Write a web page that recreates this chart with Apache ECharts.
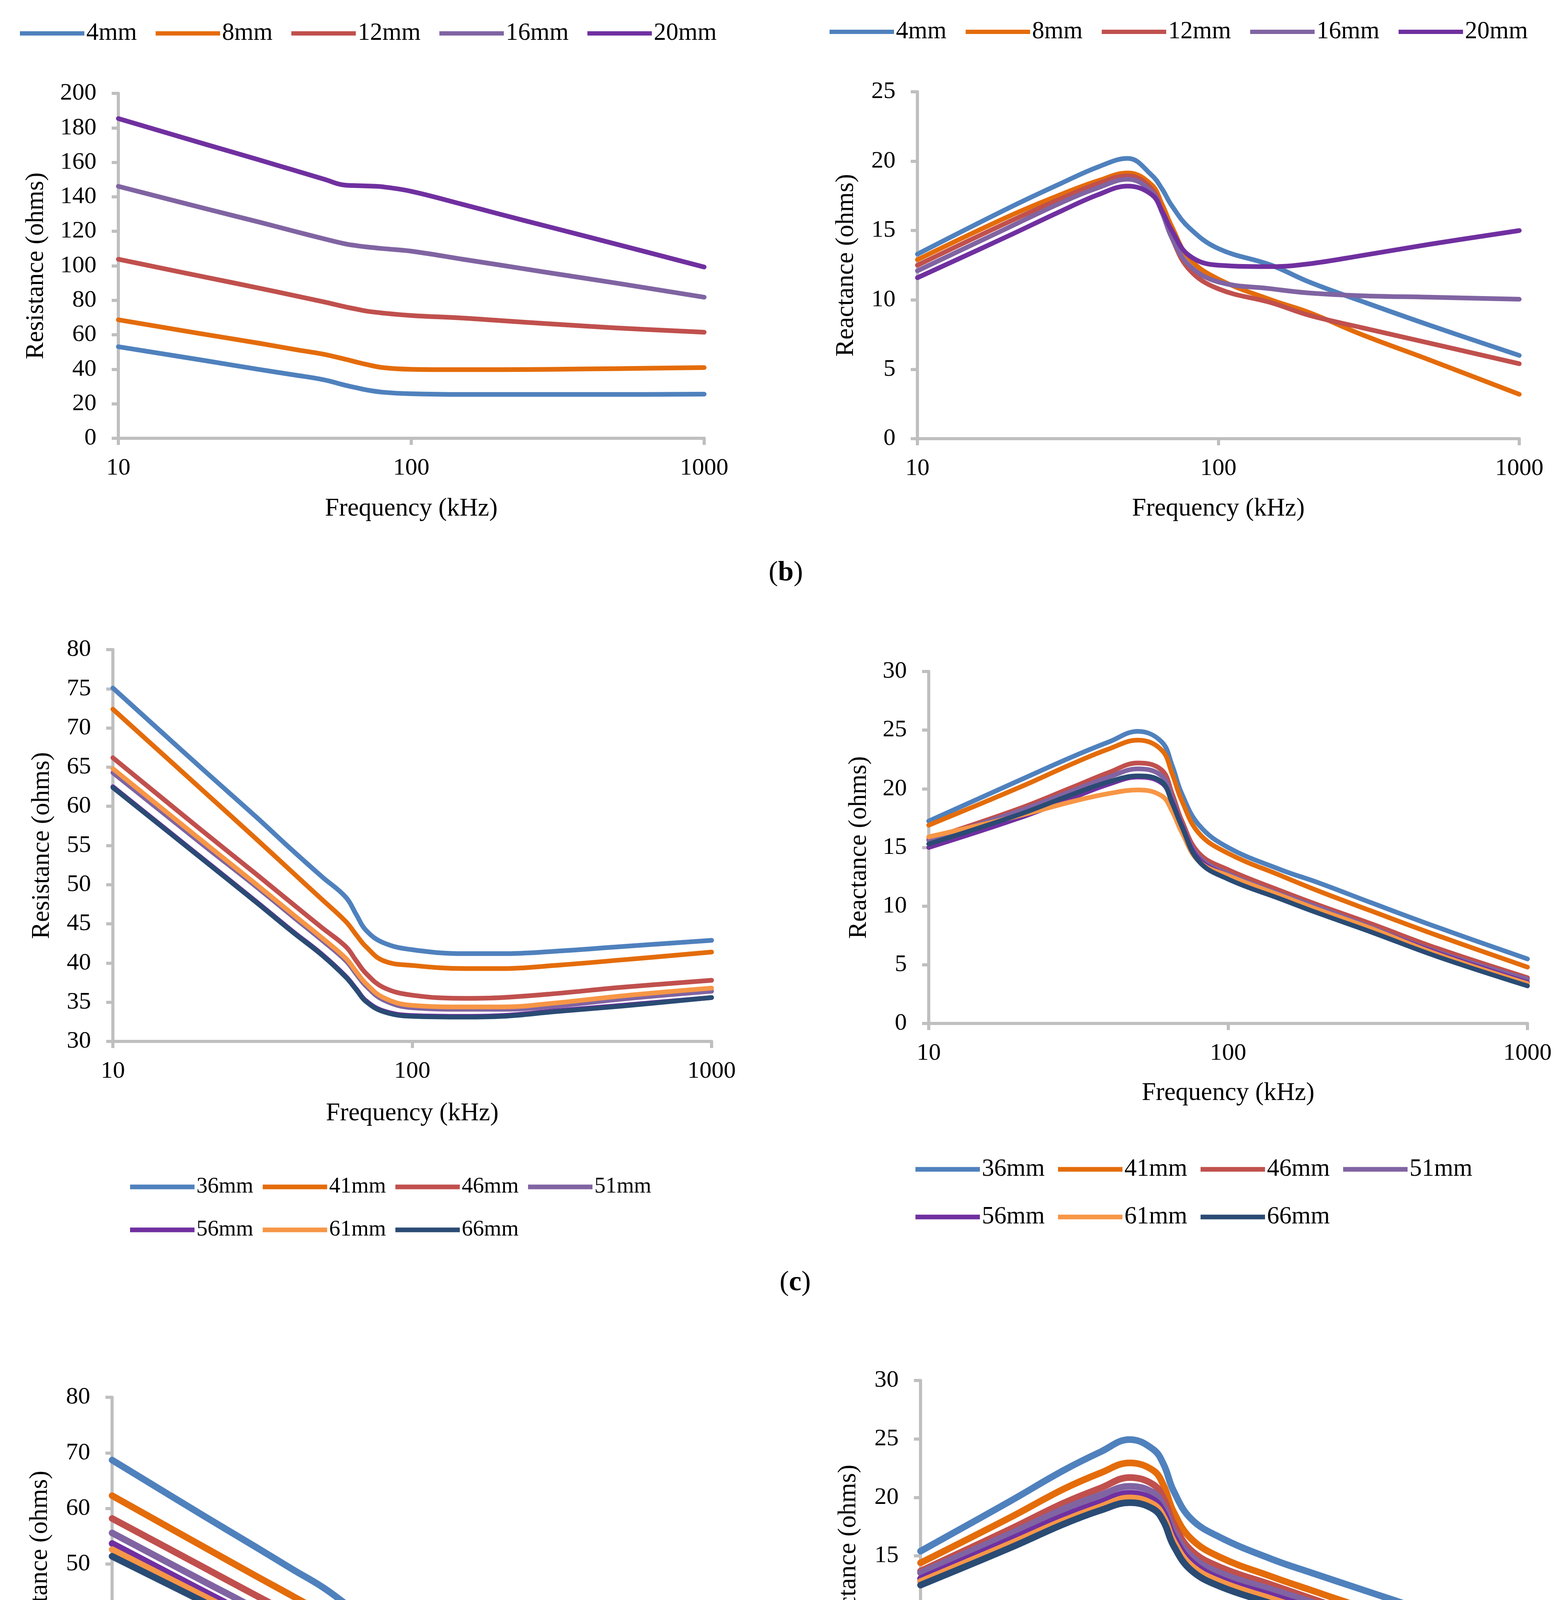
<!DOCTYPE html>
<html>
<head>
<meta charset="utf-8">
<script src="https://cdn.jsdelivr.net/npm/echarts/dist/echarts.min.js"></script>
<style>html,body{margin:0;padding:0;background:#fff;}#c{width:4002px;height:5206px;}</style>
</head>
<body>
<div id="c"></div>
<script>
// ---------- data ----------
const FREQ = [10, 20, 30, 40, 50, 60, 65, 70, 80, 100, 150, 200, 300, 500, 1000];

// (b) left: resistance
const B_NAMES = ['4mm', '8mm', '12mm', '16mm', '20mm'];
const B_R4  = [53.1, 44.9, 40.0, 36.7, 34.0, 30.6, 29.3, 28.1, 26.7, 25.8, 25.4, 25.4, 25.4, 25.4, 25.6];
const B_R8  = [68.7, 60.1, 55.2, 51.5, 48.8, 45.7, 44.2, 42.9, 41.0, 40.0, 39.8, 39.8, 40.0, 40.4, 41.0];
const B_R12 = [103.8, 93.3, 87.2, 82.7, 79.2, 76.1, 74.9, 73.8, 72.6, 71.2, 69.7, 68.3, 66.3, 64.0, 61.5];
const B_R16 = [146.1, 133.0, 125.5, 120.0, 115.8, 112.6, 111.7, 111.0, 110.0, 108.5, 103.8, 100.5, 95.8, 90.0, 81.8];
const B_R20 = [185.4, 170.3, 161.6, 155.3, 150.4, 146.7, 146.5, 146.3, 145.8, 143.2, 135.6, 130.0, 122.3, 112.6, 99.3];
// (b) right: reactance
const B_X4  = [13.3, 16.6, 18.4, 19.6, 20.2, 19.0, 18.0, 16.8, 15.2, 13.7, 12.5, 11.3, 9.9, 8.2, 6.0];
const B_X8  = [12.9, 16.0, 17.6, 18.6, 19.15, 18.3, 16.9, 15.3, 13.0, 11.5, 10.0, 9.1, 7.5, 5.7, 3.2];
const B_X12 = [12.5, 15.6, 17.3, 18.4, 18.95, 18.0, 16.4, 14.5, 12.2, 10.8, 9.8, 8.9, 8.0, 6.9, 5.4];
const B_X16 = [12.1, 15.2, 17.0, 18.1, 18.7, 17.8, 16.3, 14.5, 12.5, 11.3, 10.8, 10.5, 10.3, 10.2, 10.05];
const B_X20 = [11.6, 14.6, 16.4, 17.6, 18.2, 17.6, 16.4, 15.0, 13.2, 12.5, 12.4, 12.6, 13.2, 14.0, 15.0];

// (c) / (d)
const CD_NAMES = ['36mm', '41mm', '46mm', '51mm', '56mm', '61mm', '66mm'];
const C_R36 = [75.1, 64.7, 58.7, 54.3, 51.0, 48.4, 46.2, 44.2, 42.6, 41.7, 41.2, 41.2, 41.5, 42.1, 42.9];
const C_R41 = [72.4, 62.0, 55.9, 51.5, 48.1, 45.3, 43.6, 42.1, 40.3, 39.7, 39.3, 39.3, 39.7, 40.4, 41.4];
const C_R46 = [66.2, 56.8, 51.4, 47.5, 44.5, 42.1, 40.3, 38.7, 36.9, 35.9, 35.5, 35.6, 36.1, 36.9, 37.8];
const C_R51 = [64.3, 55.1, 49.8, 45.9, 42.9, 40.3, 38.6, 37.1, 35.3, 34.3, 34.1, 34.1, 34.5, 35.4, 36.4];
const C_R56 = [62.5, 53.3, 47.9, 44.0, 41.1, 38.3, 36.7, 35.2, 33.9, 33.3, 33.2, 33.3, 33.9, 34.6, 35.6];
const C_R61 = [64.8, 55.5, 50.1, 46.2, 43.2, 40.6, 38.9, 37.4, 35.6, 34.6, 34.4, 34.4, 34.9, 35.8, 36.8];
const C_R66 = [62.4, 53.2, 47.8, 43.9, 41.0, 38.2, 36.6, 35.1, 33.8, 33.2, 33.1, 33.2, 33.8, 34.5, 35.6];

const C_X36 = [17.25, 20.7, 22.7, 24.0, 24.9, 24.0, 22.0, 19.6, 16.9, 15.0, 13.1, 12.0, 10.3, 8.2, 5.5];
const C_X41 = [16.9, 20.1, 22.1, 23.4, 24.15, 23.3, 21.3, 19.0, 16.2, 14.5, 12.6, 11.3, 9.6, 7.5, 4.8];
const C_X46 = [15.7, 18.3, 20.1, 21.4, 22.2, 21.6, 19.6, 17.3, 14.5, 13.1, 11.3, 10.1, 8.5, 6.4, 3.9];
const C_X51 = [15.6, 18.1, 19.8, 21.0, 21.7, 21.1, 19.2, 17.0, 14.2, 12.75, 11.0, 9.9, 8.2, 6.1, 3.75];
const C_X56 = [15.0, 17.5, 19.2, 20.4, 21.0, 20.5, 18.9, 16.9, 14.0, 12.6, 10.8, 9.6, 8.1, 6.0, 3.5];
const C_X61 = [15.9, 17.7, 18.9, 19.6, 19.9, 19.4, 18.1, 16.3, 13.8, 12.6, 10.9, 9.7, 8.1, 5.9, 3.4];
const C_X66 = [15.3, 17.8, 19.5, 20.6, 21.1, 20.6, 18.8, 16.8, 13.8, 12.3, 10.6, 9.4, 7.8, 5.7, 3.2];

const D_R36 = [68.7, 58.8, 53.1, 49.0, 45.9, 42.8, 41.3, 39.6, 37.6, 36.9, 36.2, 36.0, 35.9, 36.0, 36.2];
const D_R41 = [62.3, 53.2, 47.9, 44.2, 41.2, 38.3, 36.8, 35.3, 33.8, 32.7, 32.0, 31.8, 32.0, 32.2, 32.5];
const D_R46 = [58.2, 49.5, 44.4, 40.8, 38.0, 34.8, 33.5, 32.2, 30.6, 29.9, 29.4, 29.4, 29.5, 29.8, 30.1];
const D_R51 = [55.6, 47.0, 42.0, 38.3, 35.5, 32.6, 31.4, 30.3, 28.9, 28.3, 27.8, 27.8, 27.9, 28.2, 28.5];
const D_R56 = [53.7, 45.2, 40.3, 36.8, 34.2, 31.2, 30.0, 28.8, 27.6, 27.1, 26.8, 26.7, 26.9, 27.1, 27.6];
const D_R61 = [52.6, 44.3, 39.5, 36.1, 33.4, 30.5, 29.3, 28.2, 26.8, 26.3, 25.9, 25.9, 26.0, 26.3, 26.8];
const D_R66 = [51.4, 43.3, 38.5, 35.2, 32.6, 29.8, 28.6, 27.5, 26.1, 25.5, 25.3, 25.2, 25.3, 25.7, 26.1];

const D_X36 = [15.4, 19.7, 22.3, 23.9, 24.95, 24.1, 22.8, 20.6, 18.2, 16.6, 14.7, 13.6, 12.1, 10.2, 7.5];
const D_X41 = [14.4, 18.3, 20.7, 22.1, 22.95, 22.3, 21.0, 18.8, 16.5, 14.9, 13.2, 12.1, 10.6, 8.9, 6.25];
const D_X46 = [13.7, 17.3, 19.5, 20.8, 21.7, 21.1, 19.9, 17.8, 15.5, 14.05, 12.5, 11.4, 9.9, 8.2, 5.5];
const D_X51 = [13.55, 16.9, 19.0, 20.2, 20.95, 20.4, 19.2, 17.2, 15.0, 13.55, 12.1, 11.1, 9.6, 7.8, 5.1];
const D_X56 = [13.05, 16.4, 18.4, 19.6, 20.35, 19.8, 18.7, 16.7, 14.55, 13.05, 11.6, 10.6, 9.2, 7.4, 4.75];
const D_X61 = [12.8, 16.05, 18.0, 19.2, 19.95, 19.4, 18.3, 16.3, 14.2, 12.8, 11.3, 10.3, 8.9, 7.2, 4.5];
const D_X66 = [12.5, 15.7, 17.7, 18.9, 19.55, 19.0, 17.9, 15.9, 13.8, 12.4, 10.9, 9.9, 8.5, 6.8, 4.2];

const X_TICKS = ['10', '100', '1000'];
const Y_B_LEFT = {min: 0, max: 200, interval: 20};
const Y_B_RIGHT = {min: 0, max: 25, interval: 5};
const Y_C_LEFT = {min: 30, max: 80, interval: 5};
const Y_C_RIGHT = {min: 0, max: 30, interval: 5};
const Y_D_LEFT = {min: 20, max: 80, interval: 10};
const Y_D_RIGHT = {min: 0, max: 30, interval: 5};

// ---------- styles ----------
const FF = '"Liberation Serif", "Times New Roman", serif';
const COL = {
  '4mm': '#4f81bd', '8mm': '#e46c0a', '12mm': '#c0504d', '16mm': '#8064a2', '20mm': '#7030a0',
  '36mm': '#4f81bd', '41mm': '#e46c0a', '46mm': '#c0504d', '51mm': '#8064a2',
  '56mm': '#7030a0', '61mm': '#f79646', '66mm': '#2a4b74'
};
const AX = '#bfbfbf';

const grids = [
  {left: 303, top: 239, width: 1500, height: 883},   // b left
  {left: 2349, top: 235, width: 1541, height: 888},  // b right
  {left: 289, top: 1663, width: 1533, height: 1003}, // c left
  {left: 2378, top: 1719, width: 1533, height: 901}, // c right
  {left: 287, top: 3577, width: 1539, height: 854},  // d left
  {left: 2357, top: 3534, width: 1532, height: 898}  // d right
];
const xGaps = [148, 147, 152, 146, 150, 149];
const yGaps = [178, 150, 149, 146, 152, 152];
const yNames = ['Resistance (ohms)', 'Reactance (ohms)', 'Resistance (ohms)', 'Reactance (ohms)', 'Resistance (ohms)', 'Reactance (ohms)'];
const yRanges = [Y_B_LEFT, Y_B_RIGHT, Y_C_LEFT, Y_C_RIGHT, Y_D_LEFT, Y_D_RIGHT];

const xAxes = grids.map((g, i) => ({
  type: 'log', logBase: 10, gridIndex: i, min: 10, max: 1000,
  name: 'Frequency (kHz)', nameLocation: 'middle', nameGap: xGaps[i],
  nameTextStyle: {fontFamily: FF, fontSize: 65, color: '#000'},
  axisLine: {show: true, onZero: false, lineStyle: {color: AX, width: 8}},
  axisTick: {show: true, length: 17, lineStyle: {color: AX, width: 8}},
  minorTick: {show: false},
  splitLine: {show: false},
  axisLabel: {fontFamily: FF, fontSize: 62, color: '#000', margin: 46,
    formatter: v => { const s = String(Math.round(v)); return X_TICKS.indexOf(s) >= 0 ? s : ''; }}
}));
const yAxes = grids.map((g, i) => ({
  type: 'value', gridIndex: i, min: yRanges[i].min, max: yRanges[i].max, interval: yRanges[i].interval,
  name: yNames[i], nameLocation: 'middle', nameGap: yGaps[i],
  nameTextStyle: {fontFamily: FF, fontSize: 65, color: '#000'},
  axisLine: {show: true, onZero: false, lineStyle: {color: AX, width: 8}},
  axisTick: {show: true, length: 17, lineStyle: {color: AX, width: 8}},
  splitLine: {show: false},
  axisLabel: {fontFamily: FF, fontSize: 62, color: '#000', margin: 56}
}));

function mk(name, data, gi, w) {
  return {
    type: 'line', name: name, xAxisIndex: gi, yAxisIndex: gi,
    data: FREQ.map((f, k) => [f, data[k]]),
    smooth: 0.4, showSymbol: false, symbol: 'none',
    lineStyle: {color: COL[name], width: w, cap: 'round', join: 'round'},
    itemStyle: {color: COL[name]}, emphasis: {disabled: true}
  };
}

const series = [];
[B_R4, B_R8, B_R12, B_R16, B_R20].forEach((d, k) => series.push(mk(B_NAMES[k], d, 0, 12)));
[B_X4, B_X8, B_X12, B_X16, B_X20].forEach((d, k) => series.push(mk(B_NAMES[k], d, 1, 12)));
[C_R36, C_R41, C_R46, C_R51, C_R56, C_R61, C_R66].forEach((d, k) => series.push(mk(CD_NAMES[k], d, 2, 12)));
[C_X36, C_X41, C_X46, C_X51, C_X56, C_X61, C_X66].forEach((d, k) => series.push(mk(CD_NAMES[k], d, 3, 12)));
[D_R36, D_R41, D_R46, D_R51, D_R56, D_R61, D_R66].forEach((d, k) => series.push(mk(CD_NAMES[k], d, 4, 17)));
[D_X36, D_X41, D_X46, D_X51, D_X56, D_X61, D_X66].forEach((d, k) => series.push(mk(CD_NAMES[k], d, 5, 17)));

function lg(names, left, top, fs, gap, ih, icon) {
  return {
    data: names, left: left, top: top, orient: 'horizontal', padding: 0,
    icon: icon, itemWidth: 165, itemHeight: ih, itemGap: gap, selectedMode: false,
    textStyle: {fontFamily: FF, fontSize: fs, color: '#000'}
  };
}
const legends = [
  lg(B_NAMES, 51, 54, 63, 48, 11, 'rect'),
  lg(B_NAMES, 2124, 50, 63, 49, 11, 'rect'),
  lg(CD_NAMES.slice(0, 4), 333, 3010, 57, 24, 12, 'rect'),
  lg(CD_NAMES.slice(4), 333, 3120, 57, 24, 12, 'rect'),
  lg(CD_NAMES.slice(0, 4), 2344, 2962, 63, 34, 12, 'rect'),
  lg(CD_NAMES.slice(4), 2344, 3084, 63, 34, 12, 'rect'),
  lg(CD_NAMES.slice(0, 4), 276, 4780, 67, 30, 18, 'roundRect'),
  lg(CD_NAMES.slice(4), 276, 4901, 67, 30, 18, 'roundRect'),
  lg(CD_NAMES.slice(0, 4), 2340, 4780, 67, 31, 18, 'roundRect'),
  lg(CD_NAMES.slice(4), 2340, 4901, 67, 31, 18, 'roundRect')
];

function panelLabel(letter, x, y) {
  return {
    type: 'text', x: x, y: y,
    style: {
      text: '{n|(}{b|' + letter + '}{n|)}',
      align: 'center', verticalAlign: 'middle',
      rich: {
        n: {fontFamily: FF, fontSize: 72, fill: '#000', color: '#000'},
        b: {fontFamily: FF, fontSize: 72, fontWeight: 'bold', fill: '#000', color: '#000'}
      }
    }
  };
}

const chart = echarts.init(document.getElementById('c'), null, {renderer: 'canvas', width: 4002, height: 5206});
chart.setOption({
  animation: false,
  backgroundColor: '#ffffff',
  grid: grids,
  xAxis: xAxes,
  yAxis: yAxes,
  legend: legends,
  series: series,
  graphic: [panelLabel('b', 2012, 1467), panelLabel('c', 2036, 3284), panelLabel('d', 2048, 5137)]
});
</script>
</body>
</html>
